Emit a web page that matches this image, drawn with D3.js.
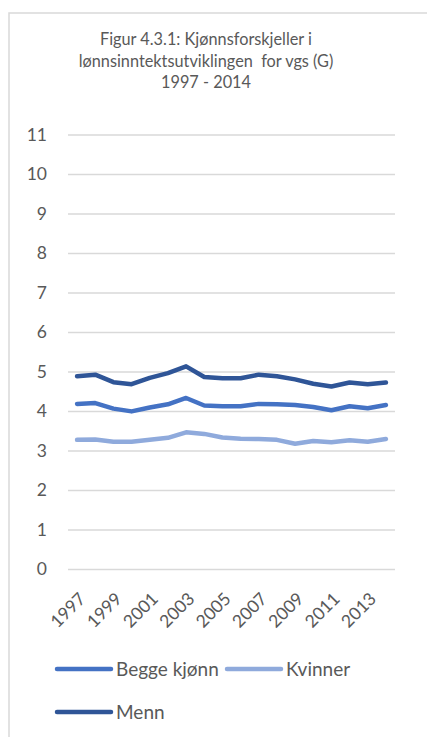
<!DOCTYPE html>
<html><head><meta charset="utf-8">
<script src="https://cdn.jsdelivr.net/npm/d3@7"></script>
<style>html,body{margin:0;padding:0;background:#fff;}svg{display:block;}</style>
</head><body>
<svg id="c" width="427" height="737"></svg>
<script>
const years = [1997,1998,1999,2000,2001,2002,2003,2004,2005,2006,2007,2008,2009,2010,2011,2012,2013,2014];
const begge = [4.18,4.2,4.06,3.99,4.09,4.17,4.33,4.14,4.12,4.12,4.18,4.17,4.15,4.1,4.02,4.12,4.07,4.15];
const kvinner = [3.27,3.28,3.22,3.22,3.27,3.32,3.46,3.42,3.33,3.3,3.29,3.27,3.17,3.24,3.21,3.26,3.22,3.29];
const menn = [4.88,4.92,4.73,4.68,4.84,4.96,5.13,4.86,4.83,4.83,4.92,4.88,4.8,4.69,4.62,4.72,4.68,4.72];
const yTicks = [0,1,2,3,4,5,6,7,8,9,10,11];
const xLabels = [1997,1999,2001,2003,2005,2007,2009,2011,2013];
const seriesNames = ["Begge kjønn","Kvinner","Menn"];
const titleLines = ["Figur 4.3.1: Kjønnsforskjeller i","lønnsinntektsutviklingen  for vgs (G)","1997 - 2014"];

const colors = {"Begge kjønn":"#4472C4","Kvinner":"#8FAADC","Menn":"#2F5597"};
const series = [
  {name:seriesNames[0], values:begge},
  {name:seriesNames[1], values:kvinner},
  {name:seriesNames[2], values:menn}
];
const font = "Lato, 'Open Sans', sans-serif";
const txt = "#595959";
const svg = d3.select("#c");

svg.append("rect").attr("x",9).attr("y",13).attr("width",430).attr("height",740)
  .attr("fill","#fff").attr("stroke","#d9d9d9").attr("stroke-width",1.5);

const plot = {left:68, right:395, top:134.5, bottom:569};
const x = d3.scalePoint().domain(years).range([plot.left, plot.right]).padding(0.5);
const y = d3.scaleLinear().domain([0,11]).range([plot.bottom, plot.top]);

// title
svg.append("text").attr("x",206).attr("y",45).attr("text-anchor","middle")
  .attr("font-family",font).attr("font-size",16.3).attr("fill",txt)
  .style("white-space","pre")
  .selectAll("tspan").data(titleLines).join("tspan")
  .attr("x",206).attr("dy",(d,i)=>i===0?0:21.5).text(d=>d);

// grid
const yAxis = d3.axisLeft(y).tickValues(yTicks).tickSize(-(plot.right-plot.left)).tickPadding(21);
const gy = svg.append("g").attr("transform",`translate(${plot.left},0)`).call(yAxis);
gy.select(".domain").remove();
gy.selectAll(".tick line").attr("stroke","#d9d9d9").attr("stroke-width",1.3);
gy.selectAll(".tick text").attr("font-family",font).attr("font-size",17.5).attr("fill",txt);

// x axis labels
const xAxis = d3.axisBottom(x).tickValues(xLabels).tickSize(0).tickPadding(0);
const gx = svg.append("g").attr("transform",`translate(0,${plot.bottom})`).call(xAxis);
gx.select(".domain").remove();
gx.selectAll(".tick text").attr("font-family",font).attr("font-size",17.5).attr("fill",txt)
  .attr("text-anchor","end").attr("dy",0)
  .attr("transform","translate(9,31) rotate(-45)");

// lines
const line = d3.line().x((d,i)=>x(years[i])).y(d=>y(d));
svg.selectAll(".series").data(series).join("path")
  .attr("d",d=>line(d.values)).attr("fill","none")
  .attr("stroke",d=>colors[d.name]).attr("stroke-width",4.5)
  .attr("stroke-linejoin","round").attr("stroke-linecap","round");

// legend
const legPos = [{x:57,y:669},{x:227,y:669},{x:57,y:712}];
const lg = svg.selectAll(".leg").data(series).join("g")
  .attr("transform",(d,i)=>`translate(${legPos[i].x},${legPos[i].y})`);
lg.append("line").attr("x1",0).attr("x2",54).attr("y1",0).attr("y2",0)
  .attr("stroke",d=>colors[d.name]).attr("stroke-width",4.5).attr("stroke-linecap","round");
lg.append("text").attr("x",59).attr("y",0).attr("dy","0.35em")
  .attr("font-family",font).attr("font-size",19).attr("fill",txt).text(d=>d.name);
</script>
</body></html>
